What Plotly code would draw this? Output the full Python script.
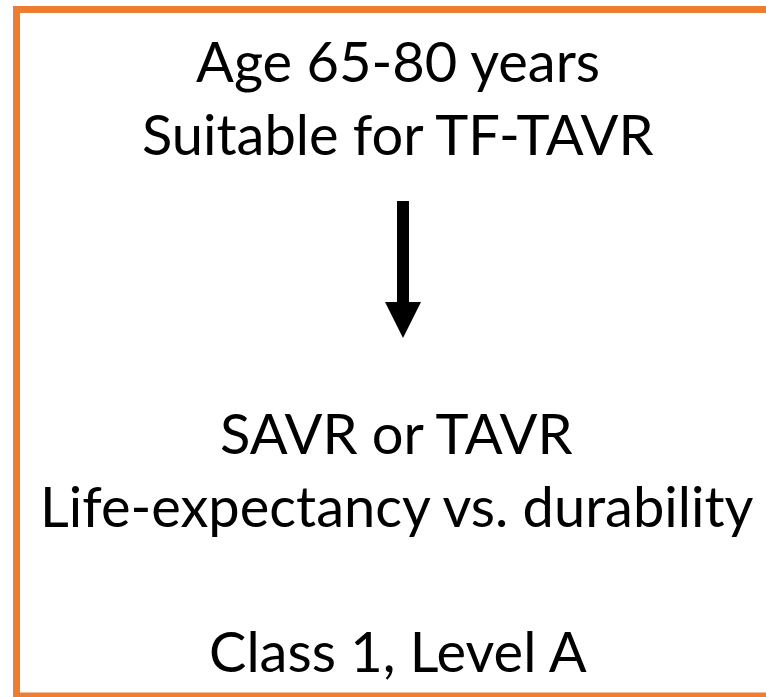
import plotly.graph_objects as go

W, H = 766, 697
top_lines = ["Age 65-80 years", "Suitable for TF-TAVR"]
bottom_lines = ["SAVR or TAVR", "Life-expectancy vs. durability"]
footer = "Class 1, Level A"

FONT = dict(family="Lato, Carlito, Calibri, sans-serif", size=56, color="black")
ORANGE = "#ED7D31"

fig = go.Figure()
fig.update_layout(
    width=W, height=H, margin=dict(l=0, r=0, t=0, b=0),
    paper_bgcolor="white", plot_bgcolor="white",
    xaxis=dict(range=[0, W], visible=False, fixedrange=True),
    yaxis=dict(range=[H, 0], visible=False, fixedrange=True),
    showlegend=False,
)

# border box (extends past right/bottom edge)
fig.add_shape(type="rect", x0=16.5, y0=9.5, x1=790, y1=696,
              line=dict(color=ORANGE, width=7), fillcolor="rgba(0,0,0,0)")

# arrow
fig.add_shape(type="rect", x0=397, y0=201, x1=409, y1=304,
              line=dict(width=0), fillcolor="black")
fig.add_shape(type="path", path="M 385 302 L 421 302 L 403 338 Z",
              line=dict(width=0), fillcolor="black")

ys = [60, 133]
for t, y in zip(top_lines, ys):
    fig.add_annotation(x=398, y=y, text=t, showarrow=False, font=FONT,
                       xanchor="center", yanchor="middle")
ys = [432, 505]
for t, y in zip(bottom_lines, ys):
    fig.add_annotation(x=396, y=y, text=t, showarrow=False, font=FONT,
                       xanchor="center", yanchor="middle")
fig.add_annotation(x=398, y=650, text=footer, showarrow=False, font=FONT,
                   xanchor="center", yanchor="middle")

fig.write_html("out.html", config={"displayModeBar": False, "staticPlot": True})
with open("out.html", encoding="utf-8") as f:
    html = f.read()
html = html.replace("<head>", "<head><style>html,body{margin:0;padding:0;overflow:hidden}</style>", 1)
with open("out.html", "w", encoding="utf-8") as f:
    f.write(html)
